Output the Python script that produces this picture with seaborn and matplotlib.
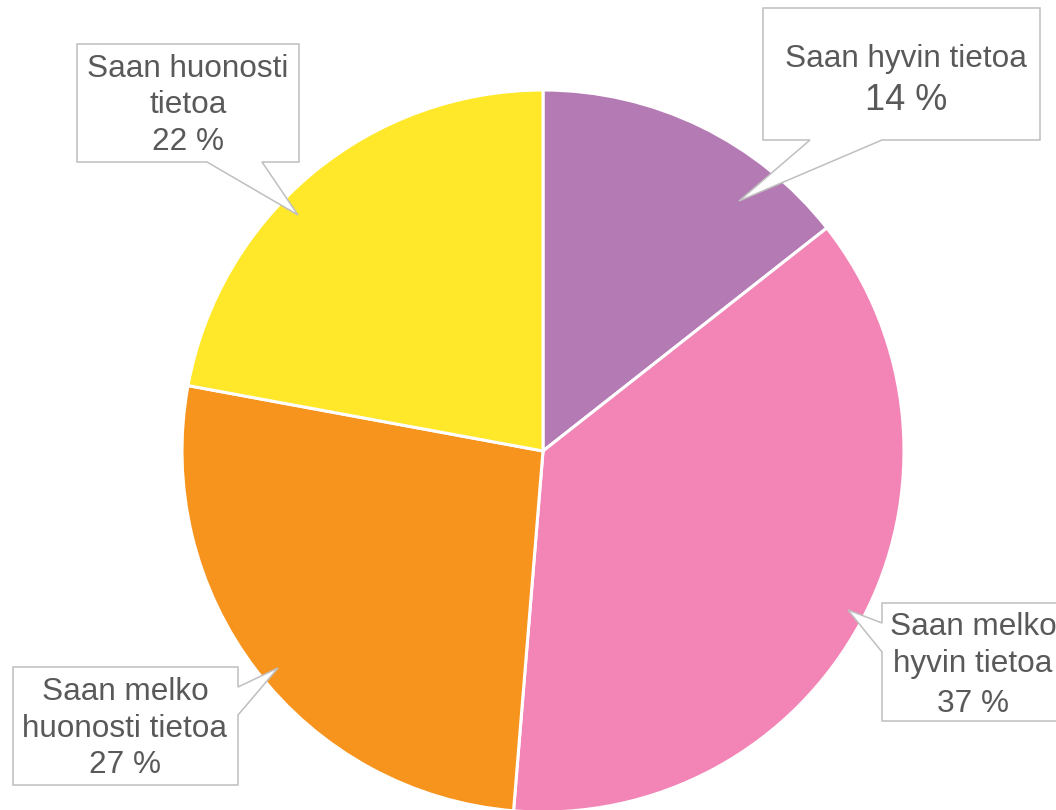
import matplotlib
matplotlib.use("Agg")
import matplotlib.pyplot as plt
import seaborn as sns
from matplotlib.patches import Polygon

# data (slice sizes; labels show rounded values)
labels = ["Saan hyvin tietoa", "Saan melko hyvin tietoa",
          "Saan melko huonosti tietoa", "Saan huonosti tietoa"]
shares = [14.4, 36.9, 26.6, 22.1]
colors = ["#B47AB4", "#F285B6", "#F7941E", "#FFE82A"]

# label lines shown in the callouts
label_lines = [["Saan hyvin tietoa", "14 %"],
               ["Saan melko", "hyvin tietoa", "37 %"],
               ["Saan melko", "huonosti tietoa", "27 %"],
               ["Saan huonosti", "tietoa", "22 %"]]

W, H = 1056, 810

sns.set_theme(style="white")
plt.rcParams["font.family"] = ["Liberation Sans", "DejaVu Sans"]

fig = plt.figure(figsize=(W / 100, H / 100), dpi=100)
ax = fig.add_axes([0, 0, 1, 1])

ax.pie(shares, colors=colors, startangle=90, counterclock=False,
       center=(543, H - 451), radius=361,
       wedgeprops=dict(edgecolor="white", linewidth=2.2))

ax.set_xlim(0, W)
ax.set_ylim(0, H)
ax.set_aspect("equal")
ax.axis("off")


def flip(pts):
    return [(x, H - y) for x, y in pts]


# callout shapes (pixel coords, y down)
callouts = [
    [(763, 8), (1040, 8), (1040, 140), (882, 140), (739, 201), (810, 140), (763, 140)],
    [(882, 603), (1070, 603), (1070, 721), (882, 721), (882, 652), (848, 610), (882, 623)],
    [(13, 667), (238, 667), (238, 687), (278, 668), (238, 715), (238, 785), (13, 785)],
    [(77, 44), (299, 44), (299, 162), (262, 162), (298, 215), (207, 162), (77, 162)],
]
text_x = [906, 973, 125, 188]
baselines = [[67, 110], [635, 672, 712], [700, 737, 773], [77, 113, 150]]
sizes = [[22.7, 26], [22.7, 22.7, 22.7], [22.7, 22.7, 22.7], [22.7, 22.7, 22.7]]

for shape, tx, lines, ys, fs in zip(callouts, text_x, label_lines, baselines, sizes):
    ax.add_patch(Polygon(flip(shape), closed=True, facecolor="white",
                         edgecolor="#BFBFBF", linewidth=1.1, zorder=3))
    for line, y, s in zip(lines, ys, fs):
        ax.text(tx, H - y, line, ha="center", va="baseline", fontsize=s,
                color="#595959", zorder=4)

fig.savefig("out.png", dpi=100)
plt.close(fig)
